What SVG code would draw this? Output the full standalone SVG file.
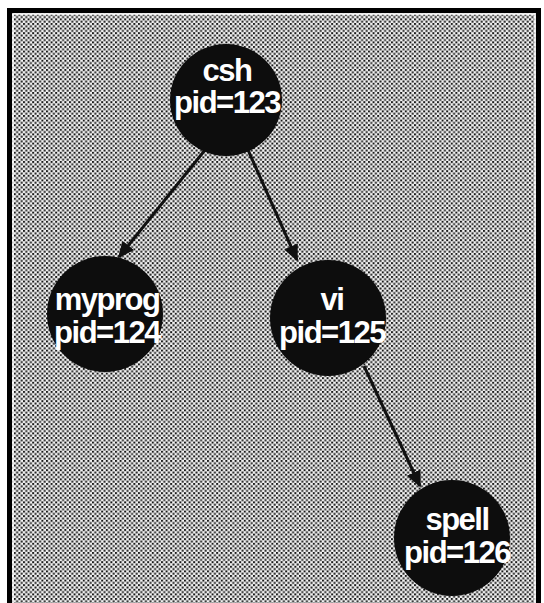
<svg xmlns="http://www.w3.org/2000/svg" width="544" height="603" viewBox="0 0 544 603">
  <defs>
    <!-- halftone screen used for the panel background -->
    <pattern id="screen" width="4.6" height="4.6" patternUnits="userSpaceOnUse">
      <rect width="4.6" height="4.6" fill="#f4f4f4"/>
      <rect x="0" y="0" width="2" height="2" fill="#1a1a1a"/>
      <rect x="2.3" y="2.3" width="2" height="2" fill="#1a1a1a"/>
    </pattern>
    <marker id="head" viewBox="0 0 10 10" refX="9" refY="5" markerWidth="5.5" markerHeight="5.5" orient="auto" markerUnits="strokeWidth">
      <path d="M0,0.5 L10,5 L0,9.5 Z" fill="#111"/>
    </marker>
    <style>
      .proc circle { fill: #0d0d0d; }
      .proc text { font-family: "Liberation Sans", Arial, sans-serif; font-weight: bold; font-size: 31px; letter-spacing: -1.5px; fill: #fff; text-anchor: middle; }
      .edge { stroke: #111; stroke-width: 3; fill: none; marker-end: url(#head); }
    </style>
  </defs>

  <!-- panel: white page, black frame, screened fill -->
  <rect width="544" height="603" fill="#fff"/>
  <rect x="9.5" y="10.5" width="529" height="600" fill="url(#screen)" stroke="#000" stroke-width="5"/>
  <rect x="13" y="14" width="522" height="600" fill="none" stroke="#fff" stroke-width="1.5"/>

  <g id="connectors">
    <line class="edge" x1="205" y1="150" x2="119" y2="257"/>
    <line class="edge" x1="248" y1="150" x2="297" y2="260"/>
    <line class="edge" x1="364" y1="366" x2="420" y2="486"/>
  </g>

  <g id="csh" class="proc">
    <circle cx="226" cy="100" r="56"/>
    <text x="227" y="81">csh</text>
    <text x="227" y="113">pid=123</text>
  </g>

  <g id="myprog" class="proc">
    <circle cx="105" cy="314" r="58"/>
    <text x="107" y="310">myprog</text>
    <text x="107" y="343">pid=124</text>
  </g>

  <g id="vi" class="proc">
    <circle cx="328" cy="318" r="58"/>
    <text x="332" y="310">vi</text>
    <text x="332" y="343">pid=125</text>
  </g>

  <g id="spell" class="proc">
    <circle cx="452" cy="538" r="58"/>
    <text x="457" y="530">spell</text>
    <text x="457" y="563">pid=126</text>
  </g>
</svg>
